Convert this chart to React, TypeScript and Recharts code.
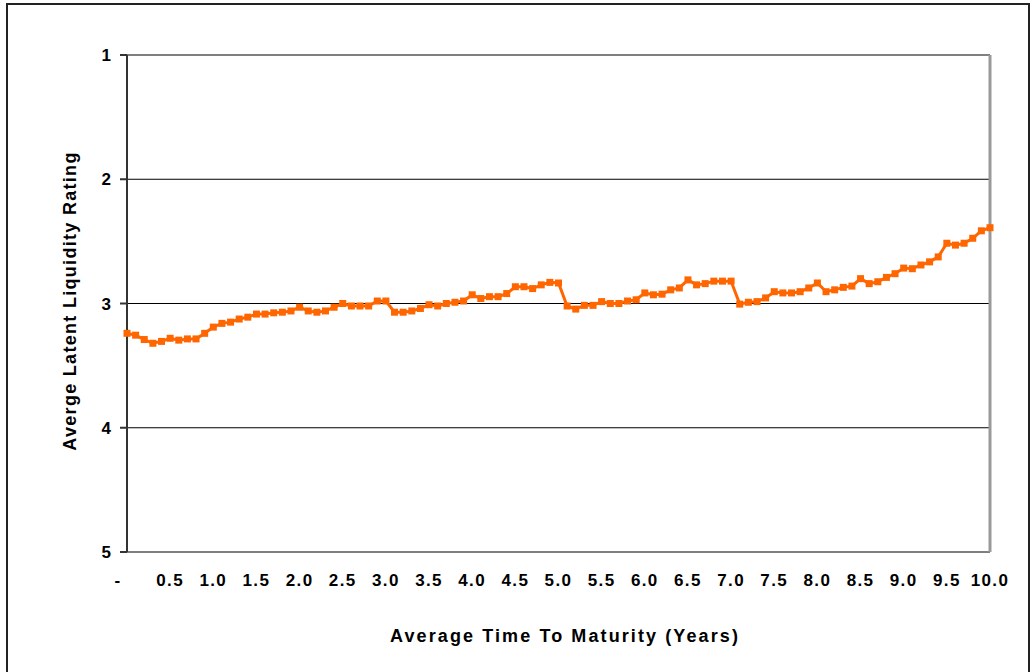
import React from 'react';
import { LineChart, Line, XAxis, YAxis, CartesianGrid, ReferenceLine, Label } from 'recharts';

// time to maturity in years, one point every 0.1 year
const maturityYears = Array.from({ length: 101 }, (_, i) => i / 10);

// average latent liquidity rating (1 = best, 5 = worst)
const liquidityRating = [
  3.24, 3.255, 3.29, 3.32, 3.305, 3.28, 3.295, 3.285, 3.285, 3.24,
  3.19, 3.16, 3.15, 3.125, 3.11, 3.085, 3.085, 3.075, 3.07, 3.06,
  3.03, 3.06, 3.07, 3.06, 3.03, 3.0, 3.02, 3.02, 3.02, 2.98,
  2.98, 3.07, 3.07, 3.06, 3.04, 3.01, 3.02, 3.0, 2.99, 2.98,
  2.93, 2.96, 2.945, 2.945, 2.92, 2.865, 2.865, 2.88, 2.85, 2.83,
  2.835, 3.02, 3.045, 3.015, 3.015, 2.985, 3.0, 3.0, 2.98, 2.97,
  2.915, 2.93, 2.925, 2.89, 2.875, 2.81, 2.85, 2.84, 2.82, 2.82,
  2.82, 3.005, 2.99, 2.985, 2.955, 2.905, 2.915, 2.915, 2.905, 2.875,
  2.835, 2.905, 2.89, 2.87, 2.86, 2.8, 2.84, 2.825, 2.79, 2.76,
  2.715, 2.72, 2.69, 2.665, 2.625, 2.515, 2.53, 2.515, 2.475, 2.415,
  2.39,
];

const xTicks = [0, 0.5, 1, 1.5, 2, 2.5, 3, 3.5, 4, 4.5, 5, 5.5, 6, 6.5, 7, 7.5, 8, 8.5, 9, 9.5, 10];
const xTickLabels = ['-', '0.5', '1.0', '1.5', '2.0', '2.5', '3.0', '3.5', '4.0', '4.5', '5.0',
  '5.5', '6.0', '6.5', '7.0', '7.5', '8.0', '8.5', '9.0', '9.5', '10.0'];
const yTicks = [1, 2, 3, 4, 5];

const data = maturityYears.map((t, i) => ({ t, rating: liquidityRating[i] }));

const FONT = '"Liberation Sans", Arial, sans-serif';
const ORANGE = '#FF6600';

function XTick(props: any) {
  const { x, y, payload, index } = props;
  return (
    <text
      x={x + (index === 0 ? -9 : 0)}
      y={y}
      dy="0.71em"
      textAnchor="middle"
      fontFamily={FONT}
      fontWeight="bold"
      fontSize={17}
      letterSpacing={1.4}
      fill="#000"
    >
      {xTickLabels[xTicks.indexOf(payload.value)]}
    </text>
  );
}

function SquareDot(props: any) {
  const { cx, cy, index } = props;
  return <rect key={index} x={cx - 3.5} y={cy - 3.5} width={7} height={7} fill={ORANGE} />;
}

export default function App() {
  return (
    <div style={{ position: 'absolute', left: 0, top: 0, width: 1034, height: 672, background: '#fff' }}>
      <div
        style={{
          position: 'absolute',
          left: 6,
          top: 3,
          width: 1024,
          height: 680,
          border: '2px solid #222',
          boxSizing: 'border-box',
        }}
      />
      <LineChart
        width={1034}
        height={672}
        data={data}
        margin={{ top: 55, right: 44, bottom: 0, left: 67 }}
        style={{ position: 'absolute', left: 0, top: 0 }}
      >
        <CartesianGrid vertical={false} stroke="#000" strokeWidth={1} />
        <XAxis
          xAxisId="top"
          orientation="top"
          dataKey="t"
          type="number"
          domain={[0, 10]}
          ticks={xTicks}
          height={0}
          tick={false}
          tickSize={5}
          stroke="#333"
          strokeWidth={2}
        />
        <XAxis
          dataKey="t"
          type="number"
          domain={[0, 10]}
          ticks={xTicks}
          interval={0}
          height={120}
          axisLine={false}
          tickLine={false}
          tickSize={6}
          tickMargin={16}
          tick={<XTick />}
        >
          <Label
            content={() => (
              <text
                x={565}
                y={642}
                textAnchor="middle"
                fontFamily={FONT}
                fontWeight="bold"
                fontSize={18}
                letterSpacing={2.1}
                fill="#000"
              >
                Average Time To Maturity (Years)
              </text>
            )}
          />
        </XAxis>
        <YAxis
          type="number"
          domain={[1, 5]}
          ticks={yTicks}
          reversed
          width={60}
          tickSize={7}
          tickMargin={9}
          stroke="#333"
          strokeWidth={2}
          tick={{ fontFamily: FONT, fontWeight: 'bold', fontSize: 17, fill: '#000' }}
        >
          <Label
            content={() => (
              <text
                x={76}
                y={301}
                transform="rotate(-90, 76, 301)"
                textAnchor="middle"
                fontFamily={FONT}
                fontWeight="bold"
                fontSize={18}
                letterSpacing={1.3}
                fill="#000"
              >
                Averge Latent Liquidity Rating
              </text>
            )}
          />
        </YAxis>
        <ReferenceLine x={10} stroke="#999" strokeWidth={3} />
        <Line
          type="linear"
          dataKey="rating"
          stroke={ORANGE}
          strokeWidth={3}
          dot={<SquareDot />}
          activeDot={false}
          isAnimationActive={false}
        />
      </LineChart>
    </div>
  );
}
